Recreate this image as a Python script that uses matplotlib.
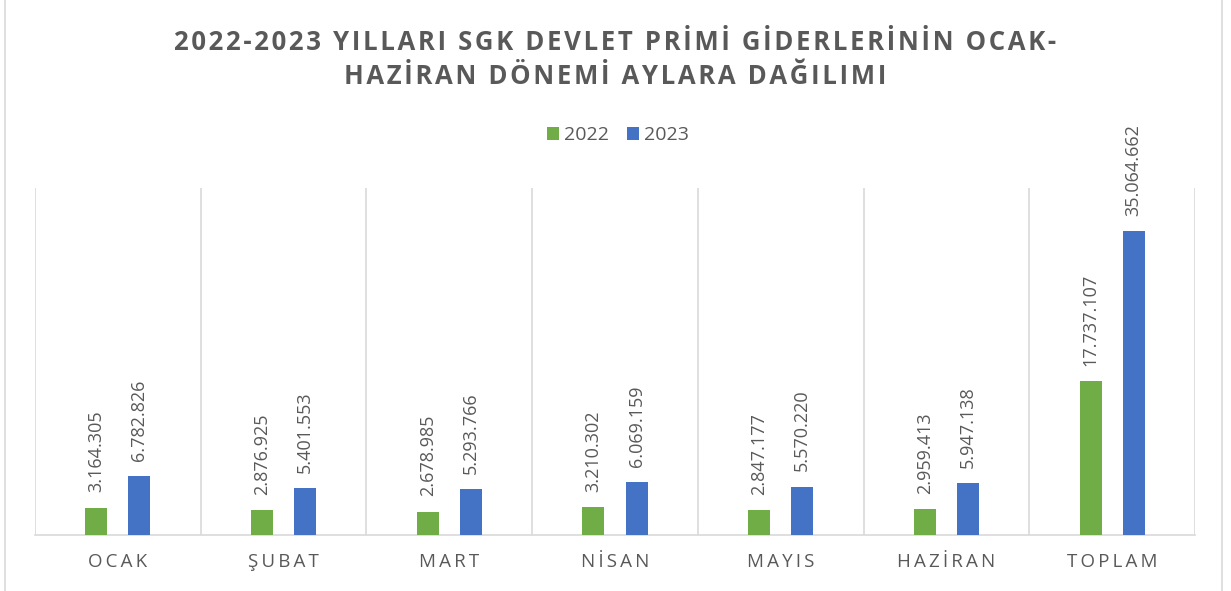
import numpy as np
import matplotlib.pyplot as plt
from matplotlib.patches import Rectangle

categories = ["OCAK", "ŞUBAT", "MART", "NİSAN", "MAYIS", "HAZİRAN", "TOPLAM"]
values_2022 = [3164305, 2876925, 2678985, 3210302, 2847177, 2959413, 17737107]
values_2023 = [6782826, 5401553, 5293766, 6069159, 5570220, 5947138, 35064662]
series_names = ["2022", "2023"]
title_lines = ["2022-2023 YILLARI SGK DEVLET PRİMİ GİDERLERİNİN OCAK-",
               "HAZİRAN DÖNEMİ AYLARA DAĞILIMI"]

green = "#70AD47"
blue = "#4472C4"
grey_text = "#595959"
grid_col = "#D9D9D9"

plt.rcParams['font.family'] = ['Open Sans', 'DejaVu Sans']


def fmt(v):
    return "{:,}".format(v).replace(",", ".")


def spaced(s, sep="\u2009"):
    # Excel letter spacing, faked with thin spaces
    return sep.join(s)


fig = plt.figure(figsize=(12.31, 5.91), dpi=100)
ax = fig.add_axes([35 / 1231, 1 - 535 / 591, (1195 - 35) / 1231, (535 - 188) / 591])

x = np.arange(len(categories))
w = 0.133
off = 0.13
b1 = ax.bar(x - off, values_2022, w, color=green, label=series_names[0], zorder=3)
b2 = ax.bar(x + off, values_2023, w, color=blue, label=series_names[1], zorder=3)

for bars, vals in ((b1, values_2022), (b2, values_2023)):
    for rect, v in zip(bars, vals):
        ax.annotate(fmt(v), (rect.get_x() + rect.get_width() / 2, rect.get_height()),
                    xytext=(0, 11), textcoords="offset points", rotation=90,
                    ha="center", va="bottom", fontsize=13, color=grey_text)

ax.set_xlim(-0.5, len(categories) - 0.5)
ax.set_ylim(0, 40000000)
ax.set_yticks([])
ax.set_xticks(x)
ax.set_xticklabels([spaced(c) for c in categories], fontsize=13.5, color=grey_text)
ax.tick_params(axis="x", length=0, pad=13)

# vertical gridlines between categories
for b in np.arange(-0.5, len(categories), 1.0):
    ax.axvline(b, color=grid_col, lw=1.2, zorder=1)

for s in ("top", "right", "left"):
    ax.spines[s].set_visible(False)
ax.spines["bottom"].set_color(grid_col)
ax.spines["bottom"].set_linewidth(1.2)

for i, line in enumerate(title_lines):
    fig.text(0.5, 1 - (43 + 34 * i) / 591, spaced(line, "\u200a"),
             ha="center", va="center", fontsize=18.5, fontweight="bold", color=grey_text)

fig.legend(loc="center", bbox_to_anchor=(618 / 1231, 1 - 135 / 591), ncol=2, frameon=False,
           fontsize=14, handlelength=0.65, handleheight=0.65, handletextpad=0.25,
           columnspacing=0.9, labelcolor=grey_text)

# outer chart border
fig.add_artist(Rectangle((5 / 1231, -0.01), 1217 / 1231, 1.05, transform=fig.transFigure,
                         fill=False, edgecolor=grid_col, lw=1.2))

fig.savefig("out.png", dpi=100, facecolor="white")
